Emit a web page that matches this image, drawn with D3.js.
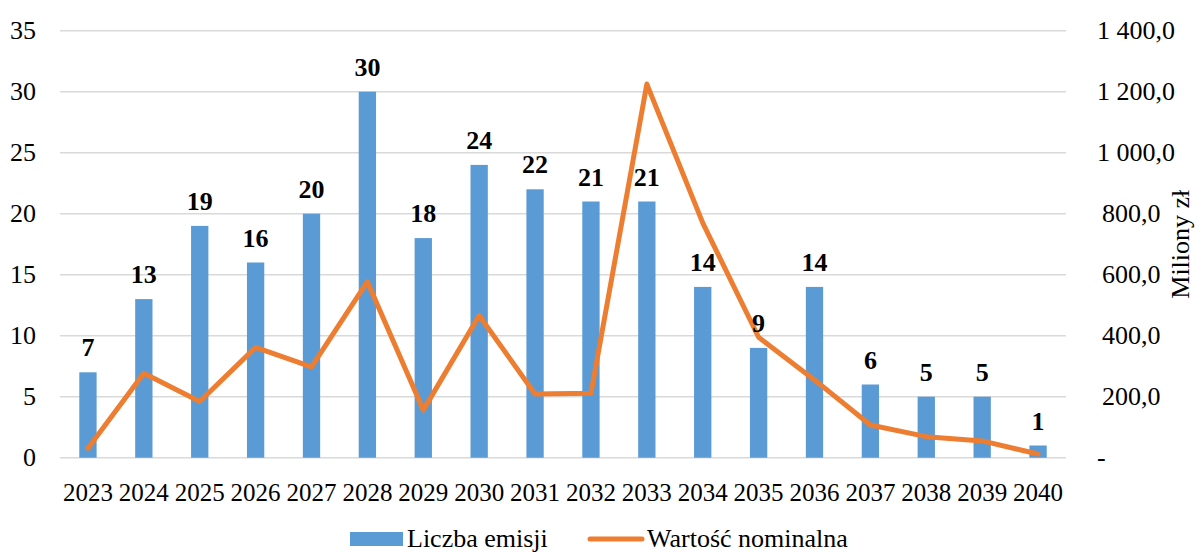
<!DOCTYPE html>
<html>
<head>
<meta charset="utf-8">
<script src="https://cdn.jsdelivr.net/npm/d3@7"></script>
<style>
  html, body { margin: 0; padding: 0; background: #fff; }
  svg text { font-family: 'Liberation Serif', 'Times New Roman', 'DejaVu Serif', serif; }
</style>
</head>
<body>
<svg id="chart" width="1199" height="552"></svg>
<script>
// Issue counts and nominal value per maturity year
const years = ["2023","2024","2025","2026","2027","2028","2029","2030","2031","2032","2033","2034","2035","2036","2037","2038","2039","2040"];
const issueCounts = [7, 13, 19, 16, 20, 30, 18, 24, 22, 21, 21, 14, 9, 14, 6, 5, 5, 1];
const nominalValues = [31, 277, 184, 362, 298, 577, 156, 466, 209, 211, 1225, 770, 395, 255, 107, 69, 55, 12];
const leftTicks = [0, 5, 10, 15, 20, 25, 30, 35];
const rightTicks = [0, 200, 400, 600, 800, 1000, 1200, 1400];
const seriesNames = ["Liczba emisji", "Wartość nominalna"];
const rightAxisTitle = "Miliony zł";

const serif = "'Liberation Serif', 'Times New Roman', 'DejaVu Serif', serif";
const svg = d3.select("#chart").attr("font-family", serif);
const plot = { left: 60, right: 1066, top: 30.7, bottom: 457.7 };
const blue = "#5B9BD5", orange = "#ED7D31", grid = "#D9D9D9";
const fontSize = 26;

const x = d3.scaleBand().domain(years).range([plot.left, plot.right]).padding(0);
const yL = d3.scaleLinear().domain([0, 35]).range([plot.bottom, plot.top]);
const yR = d3.scaleLinear().domain([0, 1400]).range([plot.bottom, plot.top]);
const barW = x.bandwidth() * 0.31;
const cx = d => x(d) + x.bandwidth() / 2;

const pl = d3.formatLocale({ decimal: ",", thousands: "\u00a0", grouping: [3], currency: ["", " zł"] });
const fmtR = v => v === 0 ? "-" : pl.format(",.1f")(v);

// horizontal gridlines (the zero line doubles as the category axis)
svg.append("g").selectAll("line").data(leftTicks).join("line")
  .attr("x1", plot.left).attr("x2", plot.right)
  .attr("y1", d => yL(d)).attr("y2", d => yL(d))
  .attr("stroke", grid).attr("stroke-width", 1.5);

// left axis labels
svg.append("g").selectAll("text").data(leftTicks).join("text")
  .attr("x", 36).attr("y", d => yL(d)).attr("dy", "0.33em")
  .attr("text-anchor", "end").attr("font-size", fontSize).attr("fill", "#000")
  .text(d => d);

// right axis labels
svg.append("g").selectAll("text").data(rightTicks).join("text")
  .attr("x", d => d === 0 || d >= 1000 ? 1097 : 1102).attr("y", d => yR(d)).attr("dy", "0.33em")
  .attr("text-anchor", "start").attr("font-size", fontSize).attr("fill", "#000")
  .text(d => fmtR(d));

// right axis title
svg.append("text")
  .attr("transform", `translate(1189,${(plot.top + plot.bottom) / 2}) rotate(-90)`)
  .attr("text-anchor", "middle").attr("font-size", fontSize).attr("fill", "#000")
  .text(rightAxisTitle);

// category labels
svg.append("g").selectAll("text").data(years).join("text")
  .attr("x", d => cx(d)).attr("y", 501)
  .attr("text-anchor", "middle").attr("font-size", 25).attr("fill", "#000")
  .text(d => d);

// bars
svg.append("g").selectAll("rect").data(years).join("rect")
  .attr("x", d => cx(d) - barW / 2).attr("width", barW)
  .attr("y", (d, i) => yL(issueCounts[i]))
  .attr("height", (d, i) => plot.bottom - yL(issueCounts[i]))
  .attr("fill", blue);

// line series on the secondary axis
const line = d3.line().x((d, i) => cx(years[i])).y(d => yR(d));
svg.append("path").datum(nominalValues)
  .attr("d", line).attr("fill", "none").attr("stroke", orange)
  .attr("stroke-width", 5).attr("stroke-linejoin", "round").attr("stroke-linecap", "round");

// bar value labels
svg.append("g").selectAll("text").data(years).join("text")
  .attr("x", d => cx(d)).attr("y", (d, i) => yL(issueCounts[i]) - 16)
  .attr("text-anchor", "middle").attr("font-size", fontSize).attr("font-weight", "bold").attr("fill", "#000")
  .text((d, i) => issueCounts[i]);

// legend
const lg = svg.append("g");
lg.append("rect").attr("x", 350).attr("y", 532).attr("width", 53).attr("height", 14).attr("fill", blue);
lg.append("text").attr("x", 407).attr("y", 547).attr("font-size", 26).attr("fill", "#000").text(seriesNames[0]);
lg.append("line").attr("x1", 590).attr("x2", 642).attr("y1", 539).attr("y2", 539)
  .attr("stroke", orange).attr("stroke-width", 5).attr("stroke-linecap", "round");
lg.append("text").attr("x", 647).attr("y", 547).attr("font-size", 26).attr("fill", "#000").text(seriesNames[1]);
</script>
</body>
</html>
